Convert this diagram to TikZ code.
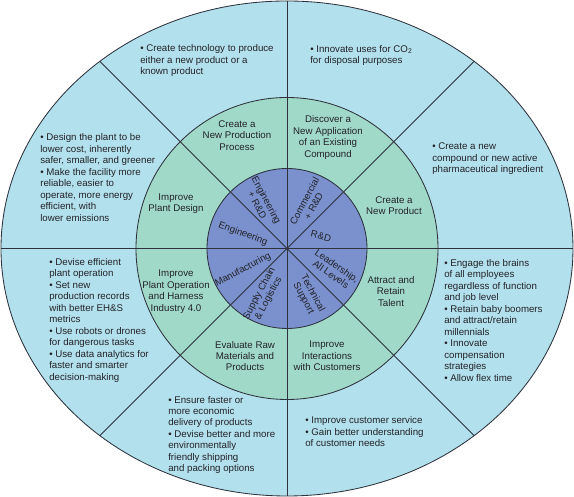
\documentclass[tikz,border=0pt]{standalone}
\usepackage{fontspec}
\setmainfont{Liberation Sans}
\usepackage{tikz}
\usetikzlibrary{positioning}
\definecolor{outerblue} {RGB}{178,224,236}
\definecolor{ringgreen} {RGB}{160,217,200}
\definecolor{corepurple}{RGB}{122,145,206}
\definecolor{rimgray}   {RGB}{45, 50,  60}
\definecolor{txtgray}   {RGB}{35, 35,  40}

\begin{document}
\begin{tikzpicture}[x=0.025cm,y=0.025cm,
		rim/.style={rimgray,line width=0.6pt},
		bullets/.style={anchor=base west,align=left,inner sep=0pt,text=txtgray,
			font=\fontsize{6.9}{8.15}\selectfont},
		goal/.style={align=center,inner sep=0pt,text=txtgray,
			font=\fontsize{6.9}{8.15}\selectfont},
		unit/.style={align=center,inner sep=0pt,text=txtgray,
			font=\fontsize{6.9}{7.4}\selectfont}]
	\useasboundingbox (-287,-248.5) rectangle (287,248.5);
	% rings
	\draw[rim,fill=outerblue] (0,0) ellipse [x radius=286, y radius=247.5];
	\fill[ringgreen] (0,0) circle [radius=151];
	\fill[corepurple] (0,0) circle [radius=80];
	\draw[rim] (-286,0)--(286,0) (0,-247.5)--(0,247.5);
	\foreach \ang in {45,135,225,315}
		\draw[rim] (0,0)--(\ang:265);
	\draw[rim] (0,0) circle [radius=151];
	\draw[rim] (0,0) circle [radius=80];
	% outer ring (base = last line)
	\node[bullets] (tl) at (-147,173.6) {\textbullet~Create technology to produce\\either a new product or a\\known product};
	\node[bullets] (tr) at (23,185) {\textbullet~Innovate uses for CO\textsubscript{2}\\for disposal purposes};
	\node[bullets] (rt) at (145,75.6) {\textbullet~Create a new\\compound or new active\\pharmaceutical ingredient};
	\node[bullets] (lt) at (-247,27.3) {\textbullet~Design the plant to be\\lower cost, inherently\\safer, smaller, and greener\\\textbullet~Make the facility more\\reliable, easier to\\operate, more energy\\efficient, with\\lower emissions};
	\node[bullets] (lb) at (-238,-131.6) {\textbullet~Devise efficient\\plant operation\\\textbullet~Set new\\production records\\with better EH\&S\\metrics\\\textbullet~Use robots or drones\\for dangerous tasks\\\textbullet~Use data analytics for\\faster and smarter\\decision-making};
	\node[bullets] (bl) at (-119,-223.3) {\textbullet~Ensure faster or\\more economic\\delivery of products\\\textbullet~Devise better and more\\environmentally\\friendly shipping\\and packing options};
	\node[bullets] (br) at (18,-198.4) {\textbullet~Improve customer service\\\textbullet~Gain better understanding\\of customer needs};
	\node[bullets] (rb) at (157,-132.6) {\textbullet~Engage the brains\\of all employees\\regardless of function\\and job level\\\textbullet~Retain baby boomers\\and attract/retain\\millennials\\\textbullet~Innovate\\compensation\\strategies\\\textbullet~Allow flex time};
	% middle ring
	\node[goal] (process) at (-50,113) {Create a\\New Production\\Process};
	\node[goal] (discover) at (41,111) {Discover a\\New Application\\of an Existing\\Compound};
	\node[goal] (product) at (107,43) {Create a\\New Product};
	\node[goal] (talent) at (104,-43) {Attract and\\Retain\\Talent};
	\node[goal] (customers) at (40,-107.5) {Improve\\Interactions\\with Customers};
	\node[goal] (raw) at (-42,-107.5) {Evaluate Raw\\Materials and\\Products};
	\node[goal] (operation) at (-111,-43) {Improve\\Plant Operation\\and Harness\\Industry 4.0};
	\node[goal] (design) at (-111,45) {Improve\\Plant Design};
	% core
	\node[unit,rotate=-62] (engrd) at (-25,46) {Engineering\\+ R\&D};
	\node[unit,rotate=62] (comrd) at (22,45) {Commercial\\+ R\&D};
	\node[unit,rotate=-15] (rd) at (34,12.5) {R\&D};
	\node[unit,rotate=-21] (eng) at (-44,14.5) {Engineering};
	\node[unit,rotate=28] (manu) at (-44,-21.5) {Manufacturing};
	\node[unit,rotate=62] (supply) at (-23,-47.5) {Supply Chain\\\& Logistics};
	\node[unit,rotate=-62] (tech) at (21,-47.5) {Technical\\Support};
	\node[unit,rotate=-35] (lead) at (47,-21.5) {Leadership,\\All Levels};
\end{tikzpicture}
\end{document}
